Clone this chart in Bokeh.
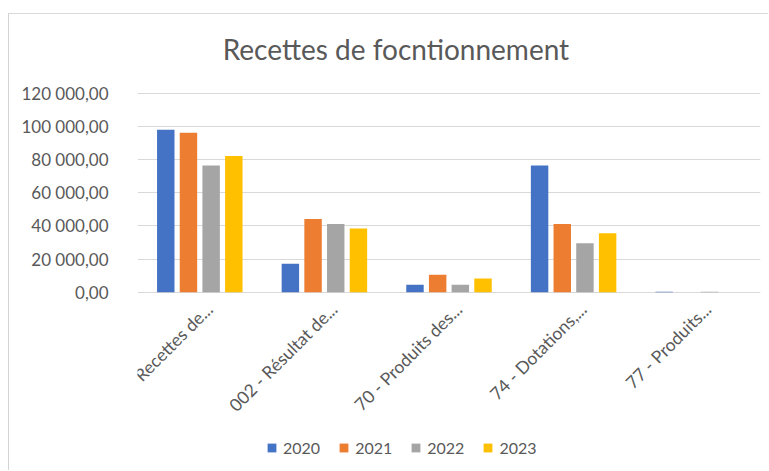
import math
from bokeh.plotting import figure
from bokeh.models import ColumnDataSource, Range1d, Legend, LegendItem, FixedTicker
from bokeh.core.properties import value
from bokeh.transform import dodge
from bokeh.embed import file_html
from bokeh.resources import INLINE

categories = ["Recettes de...", "002 - Résultat de...", "70 - Produits des...",
              "74 - Dotations,...", "77 - Produits..."]
years = ["2020", "2021", "2022", "2023"]
v2020 = [97900, 17100, 4450, 76400, 300]
v2021 = [96100, 44200, 10500, 41200, 0]
v2022 = [76400, 41200, 4450, 29500, 250]
v2023 = [82200, 38400, 8250, 35600, 0]
y_ticks = [0, 20000, 40000, 60000, 80000, 100000, 120000]
y_tick_labels = ["0,00", "20 000,00", "40 000,00", "60 000,00",
                 "80 000,00", "100 000,00", "120 000,00"]
title_text = "Recettes de focntionnement"

colors = ["#4472C4", "#ED7D31", "#A5A5A5", "#FFC000"]
offsets = [-0.273, -0.091, 0.091, 0.273]
TXT = "#595959"
FONT = "Lato"

# layout: the frame covers the whole chart area so that title, category
# labels and legend live inside it (value units per pixel = 120000 / 199)
px = 120000 / 199.0
y_top = max(y_ticks) + 78.7 * px     # frame top, above the last gridline
y_bottom = -173.3 * px               # frame bottom, below the zero line
label_dx = 0.078                     # category label anchor shift (category units)
label_y = -14 * px                   # category label anchor below zero
title_x = 2.074                      # title centre (category units)
title_y = max(y_ticks) + 44 * px     # title baseline

n = len(categories)
src = ColumnDataSource(dict(cat=categories, pos=[i + 0.5 for i in range(n)],
                            v2020=v2020, v2021=v2021, v2022=v2022, v2023=v2023))

p = figure(width=760, height=457, x_range=Range1d(0, n),
           y_range=Range1d(y_bottom, y_top), output_backend="svg",
           toolbar_location=None, x_axis_location=None,
           min_border_left=128, min_border_right=9,
           min_border_top=0, min_border_bottom=6)
p.styles = {"margin-left": "8px", "margin-top": "13px",
            "border-left": "1px solid #D4D4D4", "border-top": "1px solid #D9D9D9"}

renderers = []
for yr, col, off in zip(years, colors, offsets):
    r = p.vbar(x=dodge("pos", off), top="v" + yr, width=0.14,
               source=src, fill_color=col, line_color=None)
    renderers.append(r)

p.text(x=dodge("pos", label_dx), y=label_y, text="cat", source=src,
       angle=math.pi / 4, text_align="right", text_baseline="middle",
       text_font=value(FONT), text_font_size="17.5px", text_color=TXT)

p.text(x=[title_x], y=[title_y], text=[title_text], text_align="center",
       text_baseline="alphabetic", text_font=value(FONT),
       text_font_size="28px", text_color=TXT)

p.outline_line_color = None
p.background_fill_color = "white"
p.border_fill_color = "white"

p.xgrid.grid_line_color = None
p.ygrid.grid_line_color = "#D9D9D9"
p.ygrid.grid_line_width = 1

p.yaxis.ticker = FixedTicker(ticks=y_ticks)
p.yaxis.major_label_overrides = {t: l for t, l in zip(y_ticks, y_tick_labels)}
p.yaxis.axis_line_color = None
p.yaxis.major_tick_line_color = None
p.yaxis.major_tick_out = 0
p.yaxis.minor_tick_line_color = None
p.yaxis.minor_tick_out = 0
p.yaxis.major_label_standoff = 29
p.yaxis.major_label_text_font = FONT
p.yaxis.major_label_text_font_size = "17px"
p.yaxis.major_label_text_color = TXT

legend = Legend(items=[LegendItem(label=yr, renderers=[r]) for yr, r in zip(years, renderers)],
                orientation="horizontal", location=(129, 8))
legend.glyph_width = 11
legend.glyph_height = 11
legend.label_height = 20
legend.label_standoff = 6
legend.spacing = 18
legend.padding = 0
legend.margin = 0
legend.border_line_color = None
legend.background_fill_alpha = 0
legend.label_text_font = FONT
legend.label_text_font_size = "16px"
legend.label_text_color = TXT
p.add_layout(legend, "center")

open("out.html", "w").write(file_html(p, INLINE))
